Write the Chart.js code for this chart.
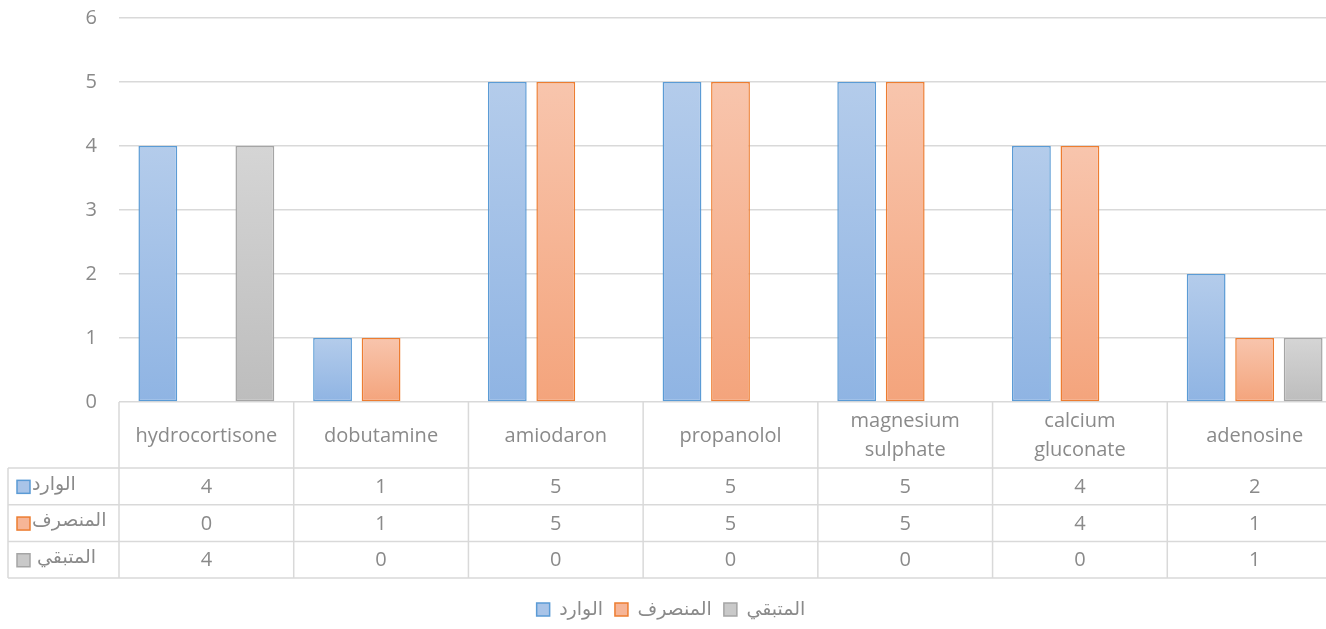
<!DOCTYPE html>
<html>
<head>
<meta charset="utf-8">
<script src="https://cdn.jsdelivr.net/npm/chart.js@4"></script>
<style>
    html, body { margin: 0; padding: 0; background: #fff; overflow: hidden; }
    #wrap { width: 1342px; height: 629px; }
</style>
</head>
<body>
<div id="wrap"><canvas id="drugChart"></canvas></div>
<script>
const categories = ["hydrocortisone", "dobutamine", "amiodaron", "propanolol", ["magnesium", "sulphate"], ["calcium", "gluconate"], "adenosine"];
const seriesNames = ["الوارد", "المنصرف", "المتبقي"];
const incoming = [4, 1, 5, 5, 5, 4, 2];
const dispensed = [0, 1, 5, 5, 5, 4, 1];
const remaining = [4, 0, 0, 0, 0, 0, 1];
const yTicks = [0, 1, 2, 3, 4, 5, 6];

const textColor = "#8a8a8a";
const lineColor = "#d9d9d9";
const fontFamily = "'Open Sans', 'DejaVu Sans', sans-serif";

const styles = [
    { top: "#b4cceb", bottom: "#8fb4e3", border: "#5b9bd5", legend: "#a9c4e8" },
    { top: "#f8c5ad", bottom: "#f4a47c", border: "#ed7d31", legend: "#f6b597" },
    { top: "#d5d5d5", bottom: "#bdbdbd", border: "#a5a5a5", legend: "#c9c9c9" }
];

function gradientFill(style) {
    return function (c) {
        const chart = c.chart;
        if (!chart.chartArea || c.dataIndex === undefined) return style.bottom;
        const y = chart.scales.y;
        const v = c.dataset.data[c.dataIndex];
        const y0 = y.getPixelForValue(0);
        const y1 = y.getPixelForValue(v);
        if (y0 === y1) return style.bottom;
        const g = chart.ctx.createLinearGradient(0, y1, 0, y0);
        g.addColorStop(0, style.top);
        g.addColorStop(1, style.bottom);
        return g;
    };
}

const seriesData = [incoming, dispensed, remaining];

// data table under the plot, Excel style
const dataTable = {
    id: "dataTable",
    afterDraw(chart) {
        const ctx = chart.ctx;
        const x = chart.scales.x;
        const area = chart.chartArea;
        const top = area.bottom;
        const headerBottom = top + 66;
        const rowH = 36.7;
        const tableLeft = 8;
        const right = area.right;
        const step = (area.right - area.left) / categories.length;

        ctx.save();
        ctx.strokeStyle = lineColor;
        ctx.lineWidth = 1.5;
        ctx.beginPath();
        // horizontal lines
        for (let r = 0; r <= 3; r++) {
            const yy = headerBottom + r * rowH;
            ctx.moveTo(tableLeft, yy);
            ctx.lineTo(right, yy);
        }
        // vertical lines
        for (let i = 0; i <= categories.length; i++) {
            const xx = area.left + i * step;
            ctx.moveTo(xx, top);
            ctx.lineTo(xx, headerBottom + 3 * rowH);
        }
        ctx.moveTo(tableLeft, headerBottom);
        ctx.lineTo(tableLeft, headerBottom + 3 * rowH);
        ctx.stroke();

        ctx.fillStyle = textColor;
        ctx.font = "20px " + fontFamily;
        ctx.textAlign = "center";
        ctx.textBaseline = "middle";
        categories.forEach(function (cat, i) {
            const cx = x.getPixelForValue(i);
            const lines = Array.isArray(cat) ? cat : [cat];
            const mid = (top + headerBottom) / 2 + 1;
            lines.forEach(function (ln, k) {
                ctx.fillText(ln, cx, mid + (k - (lines.length - 1) / 2) * 29);
            });
            seriesData.forEach(function (arr, r) {
                ctx.fillText(String(arr[i]), cx, headerBottom + r * rowH + rowH / 2 + 1);
            });
        });

        // row labels with colour keys
        ctx.textAlign = "left";
        seriesNames.forEach(function (name, r) {
            const cy = headerBottom + r * rowH + rowH / 2;
            const st = styles[r];
            ctx.fillStyle = st.legend;
            ctx.strokeStyle = st.border;
            ctx.lineWidth = 1.5;
            ctx.fillRect(17, cy - 6, 13, 13);
            ctx.strokeRect(17, cy - 6, 13, 13);
            ctx.fillStyle = textColor;
            ctx.font = "19px " + fontFamily;
            ctx.fillText(name, r === 2 ? 37 : 32, cy - 2);
        });
        ctx.restore();
    }
};

document.addEventListener("DOMContentLoaded", function () {
    const ctx = document.getElementById("drugChart").getContext("2d");

    new Chart(ctx, {
        type: "bar",
        data: {
            labels: categories,
            datasets: seriesData.map(function (arr, i) {
                return {
                    label: seriesNames[i],
                    data: arr,
                    backgroundColor: gradientFill(styles[i]),
                    borderColor: styles[i].border,
                    borderWidth: function (c) {
                        return c.raw === 0 ? 0 : 1.5;
                    },
                    borderSkipped: false,
                    categoryPercentage: 0.833,
                    barPercentage: 0.8
                };
            })
        },
        options: {
            responsive: true,
            maintainAspectRatio: false,
            animation: false,
            layout: { padding: { top: 18, right: 0, left: 0, bottom: 0 } },
            plugins: {
                tooltip: { enabled: false },
                legend: {
                    position: "bottom",
                    labels: {
                        color: textColor,
                        font: { size: 19, family: fontFamily },
                        boxWidth: 13,
                        boxHeight: 13,
                        padding: 12,
                        generateLabels: function () {
                            return seriesNames.map(function (n, i) {
                                return {
                                    text: n,
                                    fillStyle: styles[i].legend,
                                    strokeStyle: styles[i].border,
                                    lineWidth: 1.5,
                                    fontColor: textColor,
                                    datasetIndex: i
                                };
                            });
                        }
                    }
                }
            },
            scales: {
                x: {
                    grid: { display: false },
                    border: { display: false },
                    ticks: { display: false },
                    afterFit: function (scale) {
                        scale.height = 186;
                        scale.paddingTop = 0;
                    }
                },
                y: {
                    min: 0,
                    max: 6,
                    afterBuildTicks: function (scale) {
                        scale.ticks = yTicks.map(function (v) { return { value: v }; });
                    },
                    grid: { color: lineColor, lineWidth: 1.5, drawTicks: false },
                    border: { display: false },
                    ticks: {
                        color: textColor,
                        font: { size: 20, family: fontFamily },
                        padding: 22
                    },
                    afterFit: function (scale) {
                        scale.width = 119;
                        scale.paddingTop = 0;
                        scale.paddingBottom = 0;
                    }
                }
            }
        },
        plugins: [dataTable]
    });
});
</script>
</body>
</html>
